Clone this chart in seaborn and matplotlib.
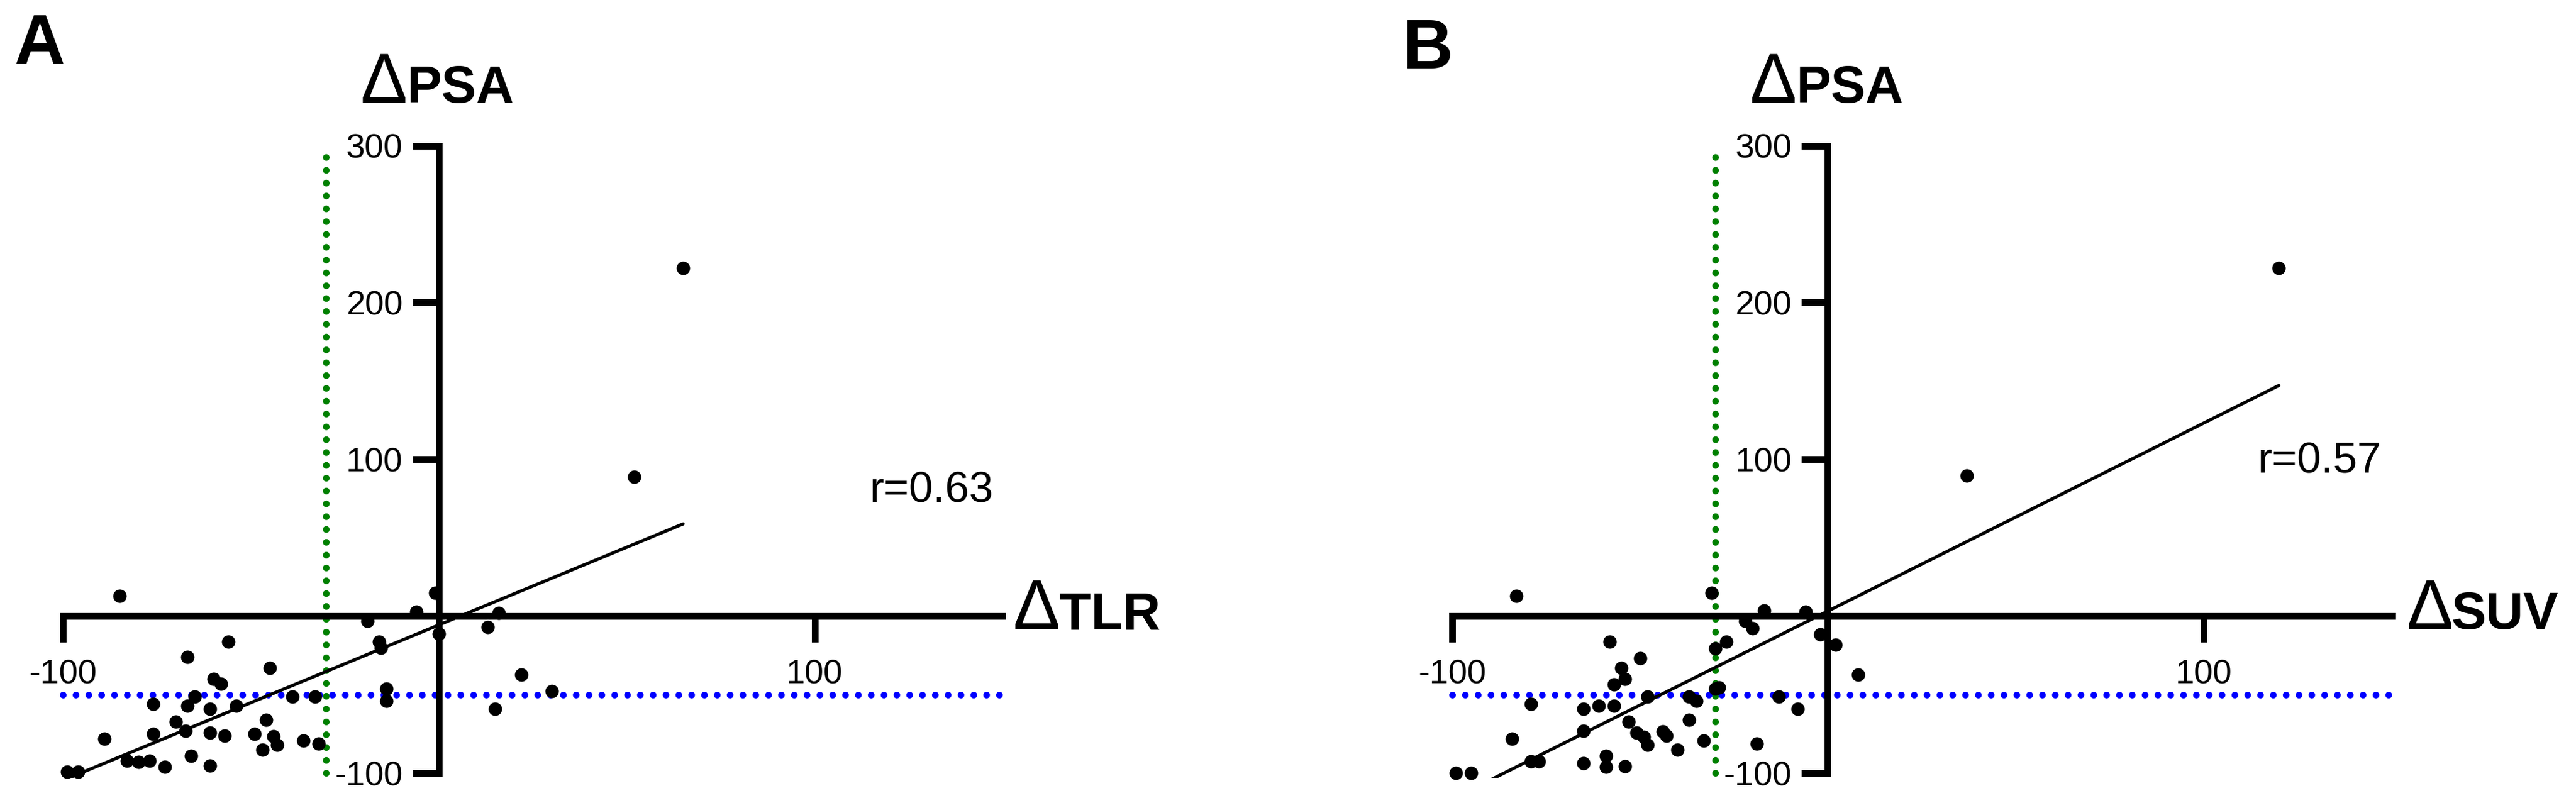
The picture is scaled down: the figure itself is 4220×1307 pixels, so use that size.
import numpy as np
import pandas as pd
import seaborn as sns
import matplotlib.pyplot as plt

sns.set_style("ticks")
plt.rcParams["font.family"] = ["Liberation Sans", "DejaVu Sans"]
plt.rcParams["axes.unicode_minus"] = False
plt.rcParams["text.color"] = "black"

# Panel A: change in TLR (%) vs change in PSA (%)
tlr_a = [65, 52, -85, -1, -6, 16, -19, 0, 13, -16, -15.5, 22, 30, 15, -14, -14,
         -33, -39, -32, -36, -45, -56, -67, -60, -58, -65, -76, -67, -61, -54,
         -46, -70, -67.5, -76, -61, -57, -49, -44, -43, -47, -89, -83, -80, -77,
         -73, -66, -61, -99, -96]
psa_a = [222, 89, 13, 15, 3, 2, -3, -11, -7, -16, -20, -37, -47.5, -59, -46, -54,
         -51, -51, -81, -79, -33, -16, -26, -40, -43, -51, -56, -57, -59, -57,
         -66, -67, -73, -75, -74, -76, -75, -76.5, -82, -85, -78, -92, -93, -92,
         -96, -89, -95, -99, -99]

# Panel B: change in SUV (%) vs change in PSA (%)
suv_b = [-83, -31, -17, -6, -22, -20, -2, 2, 8, -27, -30, -58, -50, -55, -54, -57,
         -30, -29, -13, -8, -19, -48, -37, -35, -79, -65, -61, -57, -53, -37,
         -65, -51, -49, -48, -44, -43, -40, -33, -84, -79, -77, -65, -59, -59,
         -54, -99, -95, 37, 120]
psa_b = [13, 15, 3.5, 3, -3, -7.5, -11.5, -18, -37, -16, -20.5, -16, -26.5, -33, -40, -43.5,
         -46, -45.5, -51, -59, -81, -51, -51, -54, -56, -59, -57, -57, -67, -66,
         -73, -74, -77, -82, -73.5, -76, -85, -79, -78, -92.5, -92.5, -93.5, -89, -96,
         -95.5, -100, -100, 89.5, 222]

x_names = ["TLR", "SUV"]
r_labels = ["r=0.63", "r=0.57"]
panel_tags = ["A", "B"]
x_ticks = [-100, 100]
y_ticks = [-100, 100, 200, 300]
x_cut = -30     # green threshold
psa_cut = -50   # blue threshold

LW = 2.64
DOTS = (0, (0.01, 1.9))

fig = plt.figure(figsize=(4220 / 300, 1307 / 300), dpi=300)
ax_a = fig.add_axes([0.024526, 0.02510, 0.364633, 0.79242])
ax_b = fig.add_axes([0.56374, 0.02510, 0.364633, 0.79242])

panels = [
    (ax_a, tlr_a, psa_a, (152.9, 165.1), (114.6, 72.6), (0.00545, 0.92043)),
    (ax_b, suv_b, psa_b, (154.0, 165.9), (114.3, 91.6), (0.54443, 0.91431)),
]

for i, (ax, xv, yv, xlab, rpos, tagpos) in enumerate(panels):
    df = pd.DataFrame({"x": xv, "y": yv})

    # thresholds
    ax.plot([x_cut, x_cut], [-100, 300], color="#008000", lw=LW, linestyle=DOTS,
            dash_capstyle="round", clip_on=False, zorder=1)
    ax.plot([-100, 150], [psa_cut, psa_cut], color="#0000ff", lw=LW, linestyle=DOTS,
            dash_capstyle="round", clip_on=False, zorder=1)

    sns.regplot(data=df, x="x", y="y", ax=ax, scatter=False, ci=None, truncate=True,
                line_kws=dict(color="black", lw=1.25, zorder=3))
    sns.scatterplot(data=df, x="x", y="y", ax=ax, color="black", s=28, linewidth=0,
                    clip_on=False, zorder=4)

    ax.set_xlim(-100, 150)
    ax.set_ylim(-103, 300)
    ax.set_xlabel("")
    ax.set_ylabel("")

    for side in ["top", "right"]:
        ax.spines[side].set_visible(False)
    ax.spines["left"].set_position(("data", 0))
    ax.spines["bottom"].set_position(("data", 0))
    ax.spines["left"].set_bounds(-100, 300)
    ax.spines["bottom"].set_bounds(-100, 150)
    for side in ["left", "bottom"]:
        ax.spines[side].set_linewidth(LW)
        ax.spines[side].set_color("black")
        ax.spines[side].set_zorder(2.5)

    ax.set_xticks(x_ticks)
    ax.set_yticks(y_ticks)
    ax.set_xticklabels([str(t) for t in x_ticks])
    ax.set_yticklabels([str(t) for t in y_ticks])
    ax.tick_params(axis="both", direction="out", length=10.4, width=LW,
                   color="black", labelsize=13.4, labelcolor="black")
    ax.tick_params(axis="x", pad=6.5)
    ax.tick_params(axis="y", pad=3.8)

    # axis titles
    ax.text(-20.8, 327.4, "\u0394", fontsize=27.5, ha="left", va="baseline")
    ax.text(-8.5, 327.4, "PSA", fontsize=20.5, fontweight="bold", ha="left", va="baseline")
    ax.text(xlab[0], -8.0, "\u0394", fontsize=27.5, ha="left", va="baseline")
    ax.text(xlab[1], -8.0, x_names[i], fontsize=20.5, fontweight="bold", ha="left", va="baseline")

    ax.text(rpos[0], rpos[1], r_labels[i], fontsize=17, ha="left", va="baseline")
    fig.text(tagpos[0], tagpos[1], panel_tags[i], fontsize=27.5, fontweight="bold",
             ha="left", va="baseline")

fig.savefig("out.png", dpi=300, facecolor="white")
